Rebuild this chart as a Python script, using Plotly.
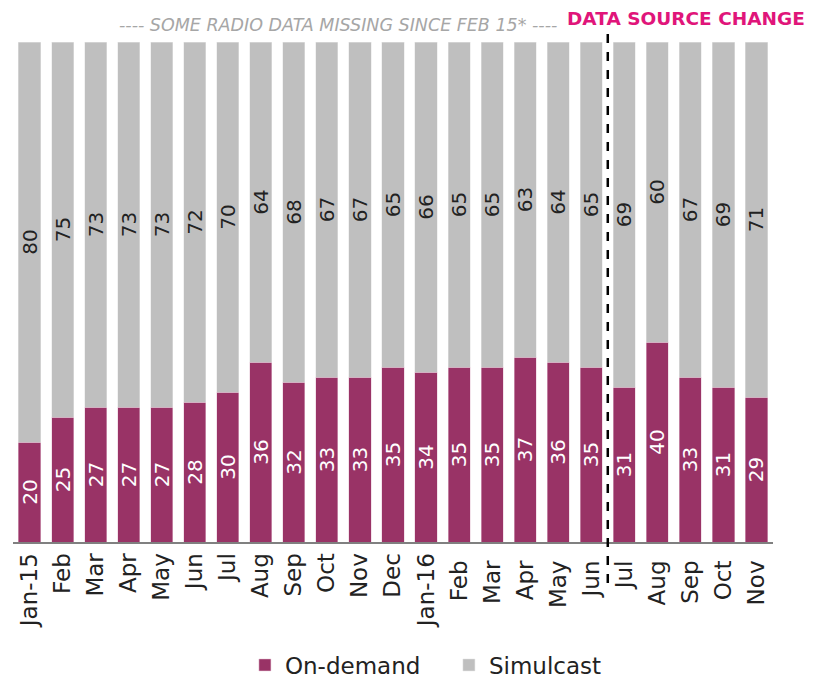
import plotly.graph_objects as go

categories = ["Jan-15", "Feb", "Mar", "Apr", "May", "Jun", "Jul", "Aug", "Sep", "Oct", "Nov", "Dec",
              "Jan-16", "Feb ", "Mar ", "Apr ", "May ", "Jun ", "Jul ", "Aug ", "Sep ", "Oct ", "Nov "]
on_demand = [20, 25, 27, 27, 27, 28, 30, 36, 32, 33, 33, 35, 34, 35, 35, 37, 36, 35, 31, 40, 33, 31, 29]
simulcast = [80, 75, 73, 73, 73, 72, 70, 64, 68, 67, 67, 65, 66, 65, 65, 63, 64, 65, 69, 60, 67, 69, 71]
change_after = "Jun "

FONT = "DejaVu Sans"

fig = go.Figure()
fig.add_trace(go.Bar(
    x=categories, y=on_demand, name="On-demand",
    marker=dict(color="#993366", line=dict(color="#E8C8D8", width=0.5)),
    text=[str(v) for v in on_demand], textposition="inside", insidetextanchor="middle",
    textangle=-90, textfont=dict(color="white", size=20, family=FONT),
    constraintext="none",
))
fig.add_trace(go.Bar(
    x=categories, y=simulcast, name="Simulcast",
    marker=dict(color="#BFBFBF", line=dict(color="#E6E6E6", width=0.5)),
    text=[str(v) for v in simulcast], textposition="inside", insidetextanchor="middle",
    textangle=-90, textfont=dict(color="#222222", size=20, family=FONT),
    constraintext="none",
))

idx = categories.index(change_after)
fig.add_shape(type="line", xref="x", yref="paper", x0=idx + 0.5, x1=idx + 0.5,
              y0=-0.082, y1=1.03, line=dict(color="black", width=2.5, dash="dash"))

fig.add_annotation(xref="paper", yref="paper", x=(338 - 12.5) / 761, y=1 + 17 / 500,
                   text="<i>---- SOME RADIO DATA MISSING SINCE FEB 15* ----</i>", showarrow=False,
                   font=dict(family=FONT, size=17.5, color="#A6A6A6"), xanchor="center", yanchor="middle")
fig.add_annotation(xref="paper", yref="paper", x=(686 - 12.5) / 761, y=1 + 23 / 500,
                   text="<b>DATA SOURCE CHANGE</b>", showarrow=False,
                   font=dict(family=FONT, size=18.5, color="#E0157A"), xanchor="center", yanchor="middle")

fig.update_layout(
    barmode="stack", bargap=0.33,
    width=818, height=670,
    margin=dict(l=4.5, r=52.5, t=34, b=136, autoexpand=False),
    paper_bgcolor="white", plot_bgcolor="white",
    font=dict(family=FONT, size=22, color="#222222"),
    uniformtext=dict(minsize=20, mode="show"),
    legend=dict(orientation="h", x=(441 - 4.5) / 761, xanchor="center", y=-0.246, yanchor="middle",
                font=dict(size=23, family=FONT), traceorder="normal", entrywidth=159,
                itemwidth=30),
    showlegend=True,
)
fig.update_xaxes(tickangle=-90, showline=True, linecolor="#808080", linewidth=2, automargin=False,
                 ticks="", tickfont=dict(size=23, family=FONT, color="#222222"))
fig.update_yaxes(range=[0, 100], visible=False, showgrid=False, automargin=False)

fig.write_html("out.html")
